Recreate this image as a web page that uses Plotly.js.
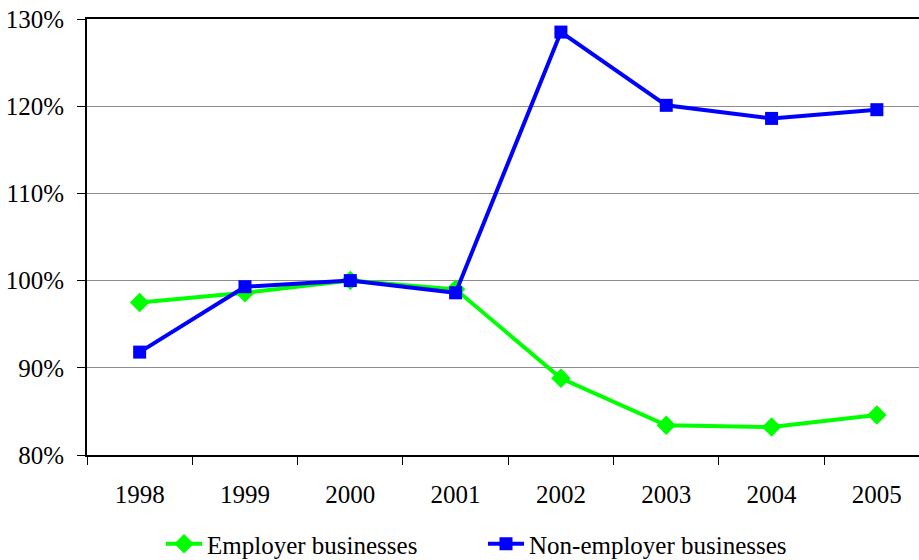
<!DOCTYPE html>
<html>
<head>
<meta charset="utf-8">
<script src="https://cdn.plot.ly/plotly-3.0.1.min.js"></script>
<style>html,body{margin:0;padding:0;background:#fff}#chart{width:919px;height:560px}</style>
</head>
<body>
<div id="chart"></div>
<script>
const years = ["1998","1999","2000","2001","2002","2003","2004","2005"];
const employer = [97.5, 98.6, 100.0, 99.0, 88.8, 83.4, 83.2, 84.6];
const nonEmployer = [91.8, 99.3, 100.0, 98.6, 128.5, 120.1, 118.6, 119.6];
const yTicks = [80, 90, 100, 110, 120, 130];
const yTickText = ["80%", "90%", "100%", "110%", "120%", "130%"];

const font = {family: "'Liberation Serif', 'Times New Roman', serif", size: 25, color: "#000"};

const traces = [
  {x: years, y: employer, name: "Employer businesses", type: "scatter", mode: "lines+markers",
   line: {color: "#00ff00", width: 4}, marker: {symbol: "diamond", size: 15, color: "#00ff00"}},
  {x: years, y: nonEmployer, name: "Non-employer businesses", type: "scatter", mode: "lines+markers",
   line: {color: "#0000ff", width: 4}, marker: {symbol: "square", size: 13, color: "#0000ff"}}
];

const layout = {
  width: 919, height: 560,
  margin: {l: 87, r: 0, t: 19, b: 105, autoexpand: false},
  paper_bgcolor: "#fff", plot_bgcolor: "#fff",
  font: font,
  showlegend: true,
  legend: {orientation: "h", xref: "container", yref: "container", x: 161/919, xanchor: "left",
           y: 16/560, yanchor: "middle", font: font, itemwidth: 36, entrywidth: 271, tracegroupgap: 0},
  xaxis: {type: "category", range: [-0.5, 7.4], showline: true, linecolor: "#000", linewidth: 2,
          mirror: true, ticks: "outside", tickson: "boundaries", ticklen: 8, tickcolor: "#000", tickwidth: 1,
          showgrid: false, zeroline: false, ticklabelstandoff: 16, tickfont: font, fixedrange: true, automargin: false},
  yaxis: {range: [80, 130], tickvals: yTicks, ticktext: yTickText, showline: true, linecolor: "#000", linewidth: 2,
          ticks: "outside", ticklen: 8, tickcolor: "#000", tickwidth: 1, showgrid: true, gridcolor: "#8c8c8c",
          gridwidth: 1, zeroline: false, ticklabelstandoff: 8, tickfont: font, fixedrange: true, automargin: false}
};

Plotly.newPlot("chart", traces, layout, {displayModeBar: false, staticPlot: true});
</script>
</body>
</html>
